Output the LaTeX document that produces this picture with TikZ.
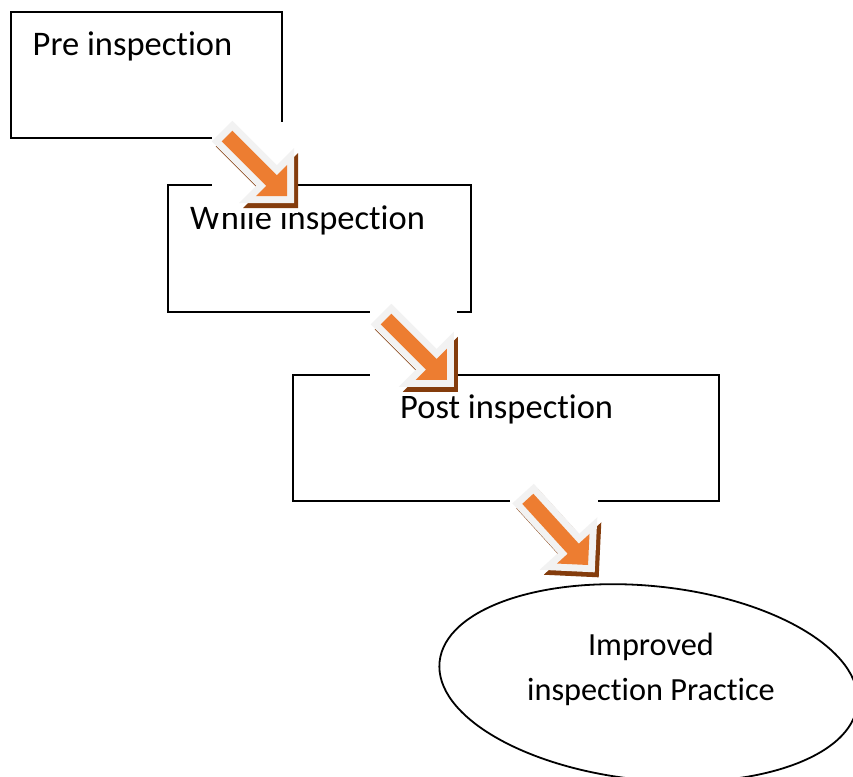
\documentclass[tikz,border=0pt]{standalone}
\usepackage{fontspec}
\setmainfont{Carlito}[Ligatures=NoCommon]
\usetikzlibrary{shapes.geometric}
\definecolor{arrorange}{RGB}{237,125,49}
\definecolor{arrbrown}{RGB}{132,60,12}
\definecolor{arrwhite}{RGB}{242,242,242}
\tikzset{
  stagebox/.style={draw=black, line width=1.8pt, rectangle, inner sep=0pt},
  stagetext/.style={anchor=base west, inner sep=0pt, font=\fontsize{34.5}{45}\selectfont},
  arrpath/.style={insert path={(0,7.5) -- ({#1-22},7.5) -- ({#1-22},22) -- (#1,0) -- ({#1-22},-22) -- ({#1-22},-7.5) -- (0,-7.5) -- cycle}},
}
\newcommand{\blockarrow}[3]{%
  \begin{scope}[shift={(#1)},xshift=4pt,yshift=-5pt,rotate=#2]
    \filldraw[arrbrown, line width=14pt, line join=miter, arrpath=#3];
  \end{scope}
  \begin{scope}[shift={(#1)},rotate=#2]
    \filldraw[arrwhite, line width=14pt, line join=miter, arrpath=#3];
    \fill[arrorange, arrpath=#3];
  \end{scope}}
\begin{document}
\begin{tikzpicture}[x=1pt,y=-1pt]
\useasboundingbox (0,0) rectangle (853,776);
\clip (0,0) rectangle (853,776);
% stage boxes
\node[stagebox, minimum width=270.4pt, minimum height=126pt] (pre) at (146.5,74.7) {};
\node[stagebox, minimum width=302.4pt, minimum height=126.7pt] (while) at (319.5,248.4) {};
\node[stagebox, minimum width=426pt, minimum height=126pt] (post) at (506.3,438) {};
\node[draw=black, line width=1.8pt, ellipse, minimum width=420pt, minimum height=194pt, inner sep=0pt, rotate=-5.8] (impr) at (648.5,683) {};
% texts
\node[stagetext] (pret) at (32.5,56) {Pre inspection};
\node[stagetext] (whilet) at (190,229.3) {While inspection};
\node[stagetext] (postt) at (400,418.3) {Post inspection};
\node[anchor=base, inner sep=0pt, align=center, font=\fontsize{32.3}{45}\selectfont] (imprt) at (651,700) {Improved\\inspection Practice};
% arrow backgrounds
\coordinate (a1) at (227,136);
\coordinate (a2) at (386,319);
\coordinate (a3) at (527.8,498.8);
\fill[white] (212,122) rectangle (298,213);
\fill[white] (370,304) rectangle (457,396);
\fill[white] (510,484) rectangle (598,582);
% block arrows
\blockarrow{a1}{-45}{85}
\blockarrow{a2}{-45}{86}
\blockarrow{a3}{-47.7}{89.5}
\end{tikzpicture}
\end{document}
